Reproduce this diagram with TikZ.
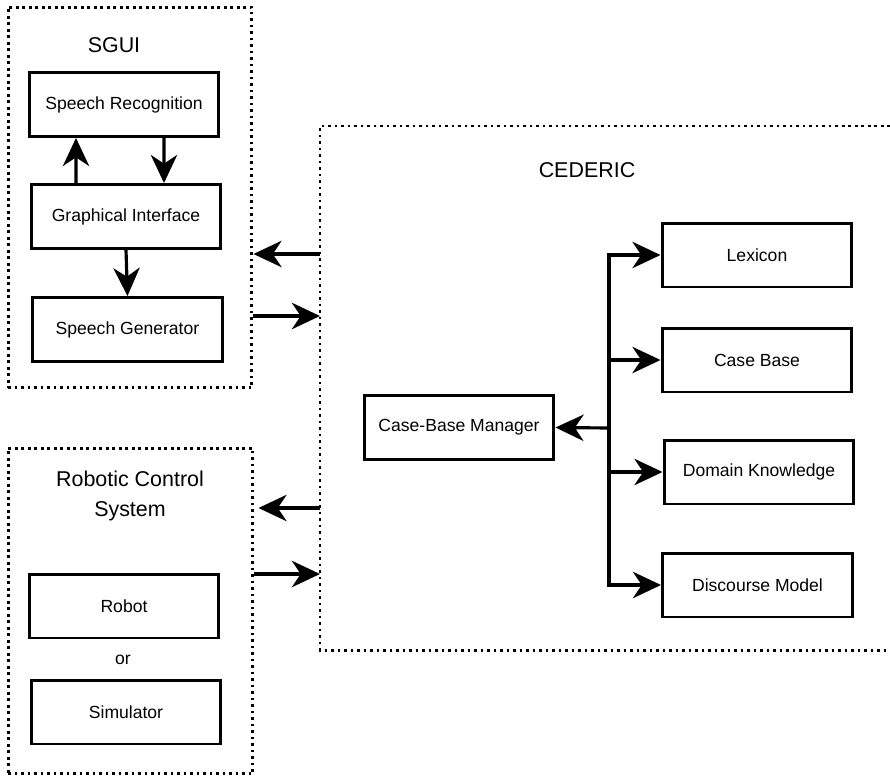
\documentclass[tikz,border=0pt]{standalone}
\usepackage{fontspec}
\setmainfont{Liberation Sans}
\usetikzlibrary{arrows.meta}

\begin{document}
\begin{tikzpicture}[x=0.02cm,y=-0.02cm]
\tikzstyle{module}=[draw, line width=1.7pt, minimum width=3.8cm, minimum height=1.28cm, inner sep=0pt, font=\fontsize{10}{12}\selectfont]
\tikzstyle{group}=[draw, line width=1.7pt, dash pattern=on 1.6pt off 2.1pt, inner sep=0pt]
\tikzstyle{title}=[align=center, font=\fontsize{12.2}{17}\selectfont]
\tikzstyle{flow}=[-{Stealth[length=16pt,width=15pt,inset=5pt]}, line width=1.8pt]
\useasboundingbox (0,0) rectangle (890,778);

% SGUI
\node[style=group, minimum width=4.88cm, minimum height=7.62cm] (sgui) at (130,197.5) {};
\node[style=title] (sgui-title) at (114,45) {SGUI};
\node[style=module] (recog) at (124,104.5) {Speech Recognition};
\node[style=module] (gui) at (126,216.5) {Graphical Interface};
\node[style=module] (gen) at (127.5,329.5) {Speech Generator};

\draw[style=flow] ([xshift=-1cm]gui.north) -- ([xshift=-0.96cm]recog.south);
\draw[style=flow] ([xshift=0.8cm]recog.south) -- ([xshift=0.76cm]gui.north);
\draw[style=flow] (gui.south) -- (gen.north);

% Robotic Control System
\node[style=group, minimum width=4.9cm, minimum height=6.52cm] (rcs) at (130.5,611) {};
\node[style=title] (rcs-title) at (130,496) {Robotic Control\\System};
\node[style=module] (robot) at (124,606) {Robot};
\node[font=\fontsize{10}{12}\selectfont] (or) at (123,660) {or};
\node[style=module] (sim) at (126,712) {Simulator};

% CEDERIC
\draw[style=group] (890,126) -- (320,126) -- (320,650) -- (890,650);
\node[style=title] (cederic-title) at (587,170) {CEDERIC};
\node[style=module] (manager) at (459,427.5) {Case-Base Manager};
\node[style=module] (lexicon) at (757,255) {Lexicon};
\node[style=module] (casebase) at (757,360) {Case Base};
\node[style=module] (domain) at (759,472) {Domain Knowledge};
\node[style=module] (discourse) at (757.5,585) {Discourse Model};

\coordinate (bus) at (609,428);
\draw[style=flow] (bus |- discourse.west) -- (bus |- lexicon.west) -- (lexicon.west);
\draw[style=flow] (bus |- lexicon.west) -- (bus |- discourse.west) -- (discourse.west);
\draw[style=flow] (bus |- casebase.west) -- (casebase.west);
\draw[style=flow] (bus |- domain.west) -- (domain.west);
\draw[style=flow] (bus) -- (manager.east);

% links to CEDERIC
\coordinate (ced-sgui) at (320,254);
\coordinate (sgui-ced) at (320,316);
\coordinate (ced-rcs) at (320,508);
\coordinate (rcs-ced) at (320,574);
\draw[style=flow] (ced-sgui) -- (sgui.east |- ced-sgui);
\draw[style=flow] (sgui.east |- sgui-ced) -- (sgui-ced);
\draw[style=flow] (ced-rcs) -- ([xshift=0.08cm]rcs.east |- ced-rcs);
\draw[style=flow] (rcs.east |- rcs-ced) -- (rcs-ced);

\end{tikzpicture}
\end{document}
